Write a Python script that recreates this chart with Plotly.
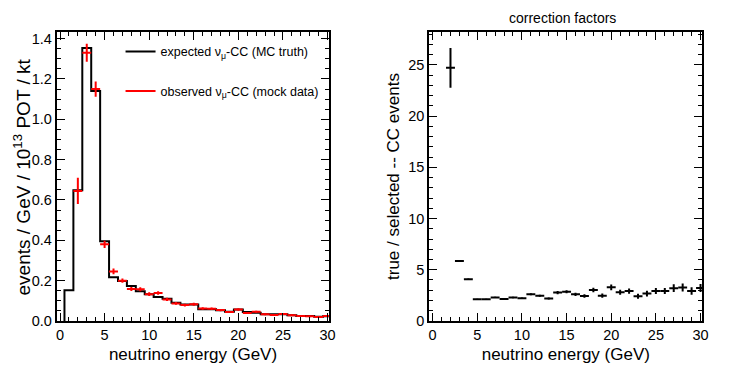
import plotly.graph_objects as go

# ---------------- data ----------------
bin_centers = list(range(1, 31))  # 1 GeV bins, centred on integers
bin_half_width = 0.5

expected = [0.152, 0.648, 1.354, 1.140, 0.395, 0.217, 0.198, 0.173, 0.148, 0.132,
            0.119, 0.110, 0.090, 0.082, 0.082, 0.058, 0.058, 0.053, 0.046, 0.057,
            0.044, 0.041, 0.033, 0.033, 0.033, 0.028, 0.025, 0.025, 0.021, 0.024]

obs_centers = list(range(2, 31))
observed = [0.645, 1.330, 1.150, 0.380, 0.246, 0.200, 0.159, 0.157, 0.133, 0.139,
            0.107, 0.087, 0.079, 0.083, 0.062, 0.061, 0.054, 0.044, 0.057, 0.040,
            0.046, 0.033, 0.030, 0.035, 0.029, 0.025, 0.023, 0.020, 0.025]
observed_err = [0.065, 0.045, 0.038, 0.018, 0.014, 0.011, 0.010, 0.010, 0.009, 0.009,
                0.008, 0.007, 0.007, 0.007, 0.006, 0.006, 0.006, 0.005, 0.006, 0.005,
                0.005, 0.005, 0.004, 0.005, 0.004, 0.004, 0.004, 0.004, 0.004]

corr_centers = list(range(2, 31))
correction = [24.7, 5.86, 4.08, 2.12, 2.12, 2.30, 2.15, 2.29, 2.23, 2.60,
              2.47, 2.20, 2.77, 2.85, 2.60, 2.44, 3.03, 2.47, 3.28, 2.80,
              2.92, 2.42, 2.68, 2.93, 2.93, 3.20, 3.27, 2.93, 3.22]
correction_err = [1.95, 0.08, 0.06, 0.05, 0.05, 0.06, 0.06, 0.07, 0.07, 0.10,
                  0.10, 0.10, 0.15, 0.15, 0.16, 0.17, 0.22, 0.20, 0.27, 0.24,
                  0.26, 0.24, 0.28, 0.30, 0.30, 0.38, 0.40, 0.36, 0.40]

x_ticks = [0, 5, 10, 15, 20, 25, 30]

# ---------------- figure ----------------
FONT = "Liberation Sans, Arial, sans-serif"
XTITLE_SIZE = 17
TICK_SIZE = 14.5
fig = go.Figure()

# step histogram (expected)
edges = [c - bin_half_width for c in bin_centers] + [bin_centers[-1] + bin_half_width]
step_x = [edges[0]] + edges
step_y = [0] + expected + [expected[-1]]
fig.add_trace(go.Scatter(
    x=step_x, y=step_y, mode="lines", line=dict(color="black", width=2, shape="hv"),
    name="expected ν<sub>μ</sub>-CC (MC truth)", xaxis="x", yaxis="y",
    legend="legend", showlegend=True))

# observed data points
fig.add_trace(go.Scatter(
    x=obs_centers, y=observed, mode="markers", marker=dict(size=0.1, color="red"),
    error_x=dict(type="constant", value=bin_half_width, width=0, color="red", thickness=2),
    error_y=dict(type="data", array=observed_err, width=0, color="red", thickness=2),
    xaxis="x", yaxis="y", showlegend=False))
# legend entry for observed
fig.add_trace(go.Scatter(
    x=[None], y=[None], mode="lines", line=dict(color="red", width=2),
    name="observed ν<sub>μ</sub>-CC (mock data)", xaxis="x", yaxis="y",
    legend="legend2", showlegend=True))

# correction factors
fig.add_trace(go.Scatter(
    x=corr_centers, y=correction, mode="markers", marker=dict(size=0.1, color="black"),
    error_x=dict(type="constant", value=bin_half_width, width=0, color="black", thickness=2),
    error_y=dict(type="data", array=correction_err, width=0, color="black", thickness=2),
    xaxis="x2", yaxis="y2", showlegend=False))

# the page body adds an 8px margin, so the figure is 738x362 and fills the window
ydom = [0.1354, 0.9337]
common_x = dict(
    range=[-0.37, 30.2], tickvals=x_ticks, ticks="inside", ticklen=8, tickwidth=1,
    tickcolor="black", showline=True, linecolor="black", linewidth=2, mirror="ticks",
    showgrid=False, zeroline=False, automargin=False,
    minor=dict(dtick=1, tick0=0, ticks="inside", ticklen=4, tickcolor="black", showgrid=False),
    tickfont=dict(family=FONT, size=TICK_SIZE, color="black"),
    title=dict(text="neutrino energy (GeV)",
               font=dict(family=FONT, size=XTITLE_SIZE, color="black"), standoff=6),
)
common_y = dict(
    ticks="inside", ticklen=8, tickcolor="black",
    showline=True, linecolor="black", linewidth=2, mirror="ticks",
    showgrid=False, zeroline=False, automargin=False,
    tickfont=dict(family=FONT, size=TICK_SIZE, color="black"),
)

fig.update_layout(
    width=738, height=362,
    margin=dict(l=0, r=0, t=0, b=0),
    paper_bgcolor="white", plot_bgcolor="white",
    font=dict(family=FONT, color="black"),
    xaxis=dict(domain=[0.066, 0.4354], anchor="y", **common_x),
    xaxis2=dict(domain=[0.5709, 0.9408], anchor="y2", **common_x),
    yaxis=dict(domain=ydom, anchor="x", range=[0, 1.433], dtick=0.2, tick0=0,
               tickformat=".1f",
               minor=dict(dtick=0.05, tick0=0, ticks="inside", ticklen=4,
                          tickcolor="black", showgrid=False),
               **common_y),
    yaxis2=dict(domain=ydom, anchor="x2", range=[0, 28.2], dtick=5, tick0=0,
                minor=dict(dtick=1, tick0=0, ticks="inside", ticklen=4,
                           tickcolor="black", showgrid=False),
                title=dict(text="true / selected -- CC events",
                           font=dict(family=FONT, size=17, color="black"), standoff=4),
                **common_y),
    legend=dict(x=0.1525, y=0.8785, xanchor="left", yanchor="middle",
                bgcolor="rgba(0,0,0,0)", font=dict(family=FONT, size=12.5, color="black"),
                itemwidth=30),
    legend2=dict(x=0.1525, y=0.770, xanchor="left", yanchor="middle",
                 bgcolor="rgba(0,0,0,0)", font=dict(family=FONT, size=12.5, color="black"),
                 itemwidth=30),
    annotations=[
        dict(text="correction factors", x=0.7507, xref="paper", y=1.0,
             yref="paper", xanchor="center", yanchor="top", showarrow=False,
             font=dict(family=FONT, size=14, color="black")),
        dict(text="events / GeV / 10<sup>13</sup> POT / kt", x=0.0195, xref="paper",
             y=0.533, yref="paper", xanchor="center", yanchor="middle", textangle=-90,
             showarrow=False, font=dict(family=FONT, size=19, color="black")),
    ],
)

fig.write_html("out.html")
